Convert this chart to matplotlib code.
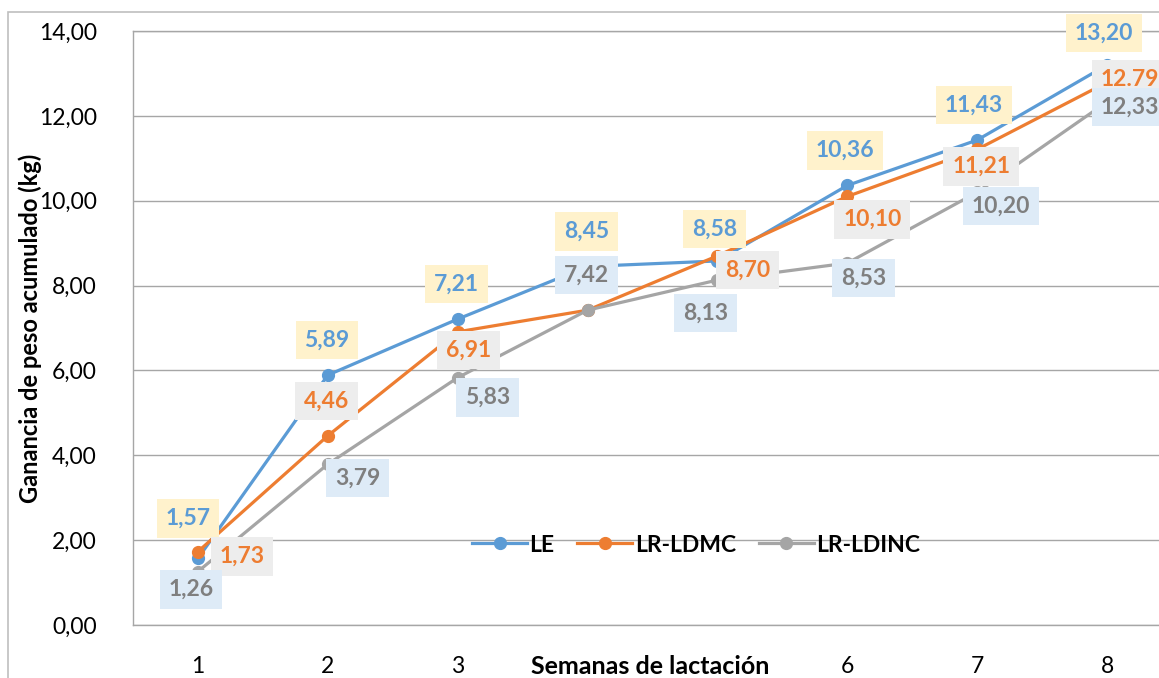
import matplotlib
matplotlib.use("Agg")
import matplotlib.pyplot as plt
from matplotlib.patches import Rectangle
from matplotlib.ticker import FuncFormatter

plt.rcParams['font.family'] = ['Lato', 'DejaVu Sans']

weeks = [1, 2, 3, 4, 5, 6, 7, 8]
le = [1.57, 5.89, 7.21, 8.45, 8.58, 10.36, 11.43, 13.20]
lr_ldmc = [1.73, 4.46, 6.91, 7.42, 8.70, 10.10, 11.21, 12.79]
lr_ldinc = [1.26, 3.79, 5.83, 7.42, 8.13, 8.53, 10.20, 12.33]
series_names = ["LE", "LR-LDMC", "LR-LDINC"]
yticks = [0, 2, 4, 6, 8, 10, 12, 14]

def fmt(v):
    return f"{v:.2f}".replace('.', ',')

labels_le = [fmt(v) for v in le]
labels_ldmc = [fmt(v) for v in lr_ldmc]
labels_ldmc[7] = f"{lr_ldmc[7]:.2f}"  # shown with a dot in the original
labels_ldinc = [fmt(v) for v in lr_ldinc]

# label offsets in pixels (dx, dy up positive)
off_le = [(-10, 40), (-1, 35), (-1, 35), (-1, 35), (-3, 32), (-2, 35), (-3, 35), (-3, 32)]
off_ldmc = [(44, -5), (-1, 35), (11, -18), (-1, 35), (30, -14), (25, -23), (4, -17), (23, 3)]
off_ldinc = [(-7, -18), (30, -14), (30, -20), (-1, 35), (-12, -33), (16, -15), (24, -14), (23, -5)]

c_le, c_ldmc, c_ldinc = "#5B9BD5", "#ED7D31", "#A5A5A5"
txt_colors = [c_le, c_ldmc, "#7F7F7F"]
box_colors = ["#FFF2CC", "#EDEDED", "#DEEBF7"]

W, H = 1159, 678
fig = plt.figure(figsize=(W / 100, H / 100), dpi=100)
fig.patches.append(Rectangle((8 / W, -1), 2, 1 + (1 - 12 / H), transform=fig.transFigure,
                             fill=False, edgecolor="#BFBFBF", linewidth=1.2, zorder=0))

ax = fig.add_axes([133 / W, (H - 625) / H, (1172 - 133) / W, (625 - 31) / H])
ax.set_xlim(0.5, 8.5)
ax.set_ylim(0, 14)
ax.set_yticks(yticks)
ax.yaxis.set_major_formatter(FuncFormatter(lambda v, p: fmt(v)))
ax.set_xticks(weeks)
ax.set_xticklabels([str(w) for w in weeks])
ax.tick_params(axis='both', length=0, labelsize=16.5, colors='black')
ax.tick_params(axis='y', pad=26)
ax.tick_params(axis='x', pad=22)
ax.grid(axis='y', color='#A6A6A6', linewidth=1.0)
ax.set_axisbelow(True)
for s in ['left', 'bottom', 'top']:
    ax.spines[s].set_color('#A6A6A6')
    ax.spines[s].set_linewidth(1.0)
ax.spines['right'].set_visible(False)

data = [le, lr_ldmc, lr_ldinc]
cols = [c_le, c_ldmc, c_ldinc]
for i, (vals, c, name) in enumerate(zip(data, cols, series_names)):
    ax.plot(weeks, vals, color=c, linewidth=2.3, marker='o', markersize=8.5,
            label=name, zorder=3 + i * 0.1, clip_on=False)

all_labels = [labels_le, labels_ldmc, labels_ldinc]
all_offs = [off_le, off_ldmc, off_ldinc]
for i in range(3):
    for w, v, lab, off in zip(weeks, data[i], all_labels[i], all_offs[i]):
        ax.annotate(lab, (w, v), xytext=off, textcoords='offset pixels',
                    ha='center', va='center', fontsize=16.5, fontweight='bold',
                    color=txt_colors[i], zorder=5 + i,
                    bbox=dict(boxstyle='square,pad=0.38', fc=box_colors[i], ec='none'),
                    annotation_clip=False)

ax.set_ylabel("Ganancia de peso acumulado (kg)", fontsize=17, fontweight='bold')
ax.yaxis.set_label_coords((42 - 133) / (1172 - 133), 0.5)
xl = ax.set_xlabel("Semanas de lactación", fontsize=18, fontweight='bold', va='center')
xl.set_bbox(dict(boxstyle='square,pad=0.15', fc='white', ec='none'))
ax.xaxis.set_label_coords((650 - 133) / (1172 - 133), (625 - 666) / 594)

leg = ax.legend(loc='center', bbox_to_anchor=(696 / W, 1 - 545 / H),
                bbox_transform=fig.transFigure, ncol=3, frameon=False,
                fontsize=16.5, handlelength=2.4, handletextpad=0.1, columnspacing=1.0)
for t in leg.get_texts():
    t.set_fontweight('bold')

fig.savefig("out.png", dpi=100)
